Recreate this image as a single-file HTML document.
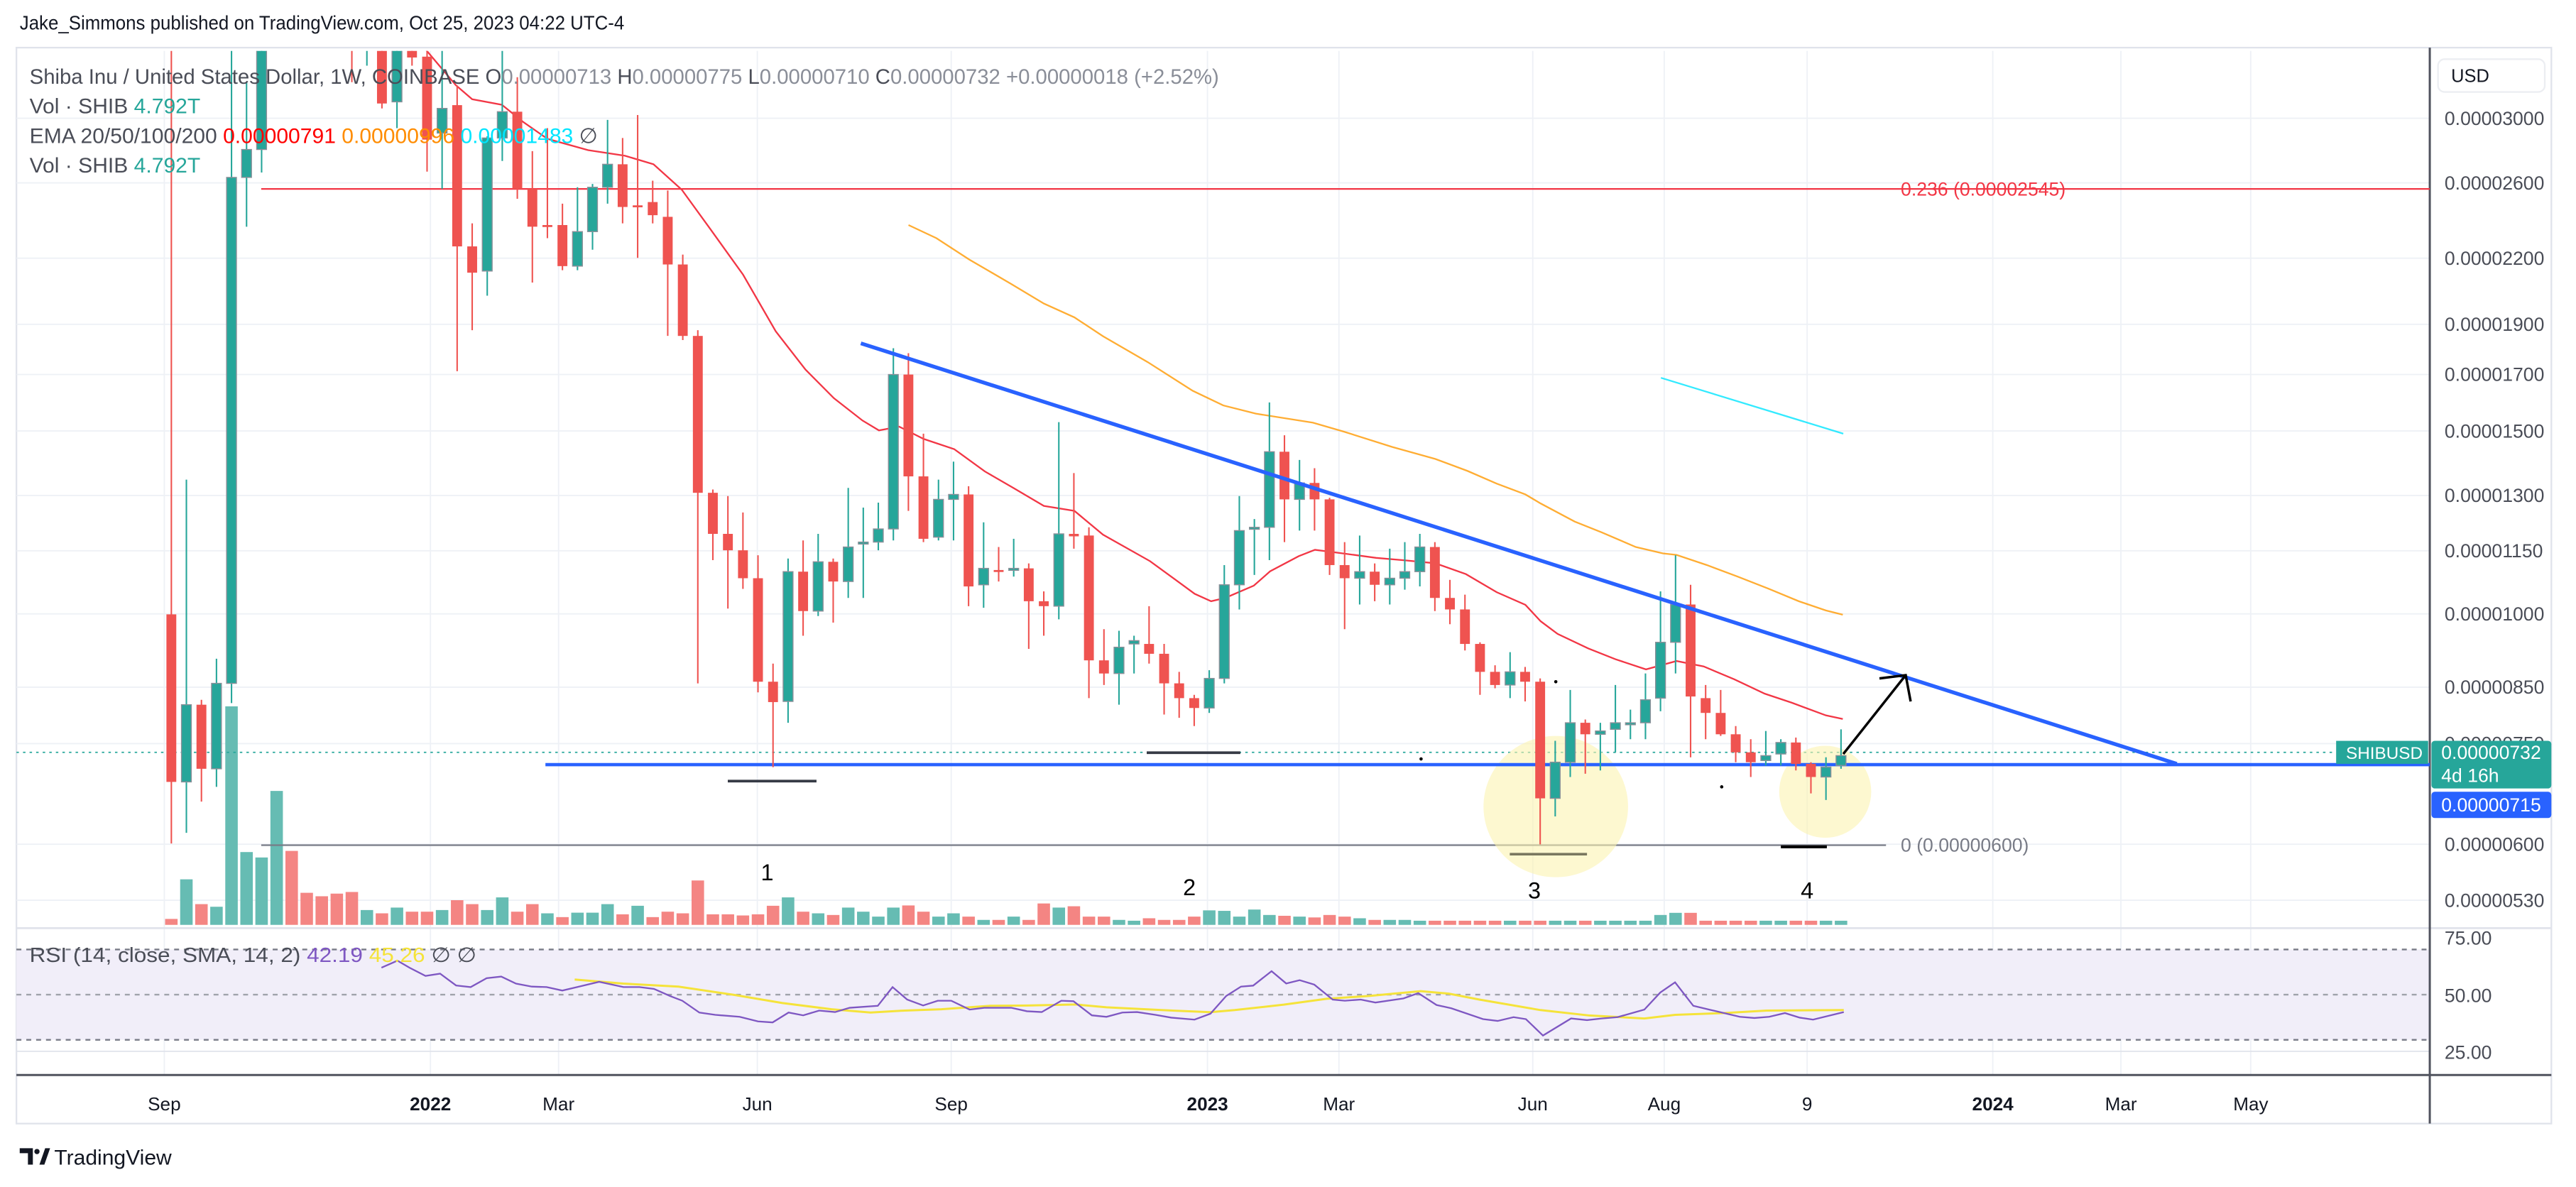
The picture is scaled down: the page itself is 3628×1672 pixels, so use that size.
<!DOCTYPE html>
<html><head><meta charset="utf-8"><style>
html,body{margin:0;padding:0;background:#fff;overflow:hidden}
svg{display:block}
text{font-family:"Liberation Sans",sans-serif}
</style></head><body>
<svg id="s" xmlns="http://www.w3.org/2000/svg" width="3628" height="1672" viewBox="0 0 1568 722.6" preserveAspectRatio="none"></svg>
<script>
var S=document.getElementById('s');var o='';
function yP(p){return 72+274.6*Math.log(3000/p);}
o+='<rect x="0" y="0" width="1568" height="722.6" fill="#fff"/>';
o+='<rect x="10" y="29" width="1543" height="655" fill="none" stroke="#e0e3eb" stroke-width="1"/>';
var tx=[[100,'Sep'],[262,'2022',1],[340,'Mar'],[461,'Jun'],[579,'Sep'],[735,'2023',1],[815,'Mar'],[933,'Jun'],[1013,'Aug'],[1100,'9'],[1213,'2024',1],[1291,'Mar'],[1370,'May']];
tx.forEach(function(t){o+='<line x1="'+t[0]+'" y1="31" x2="'+t[0]+'" y2="654" stroke="#eef1f6" stroke-width="0.8"/>';});
var pl=[3000,2600,2200,1900,1700,1500,1300,1150,1000,850,750,600,530];
pl.forEach(function(p){var y=yP(p);o+='<line x1="10" y1="'+y+'" x2="1479" y2="'+y+'" stroke="#eef1f6" stroke-width="0.8"/>';});
o+='<line x1="10" y1="565" x2="1553" y2="565" stroke="#e0e3eb" stroke-width="1.2"/>';
o+='<rect x="10" y="578" width="1469" height="55" fill="#f1eef9"/>';
[578,605.5,633].forEach(function(y,i){o+='<line x1="10" y1="'+y+'" x2="1479" y2="'+y+'" stroke="'+(i==1?'#a0a3ab':'#787b86')+'" stroke-width="1" stroke-dasharray="3,3"/>';});
o+='<line x1="10" y1="640" x2="1479" y2="640" stroke="#e0e3eb" stroke-width="0.8"/>';
o+='<line x1="1479" y1="29" x2="1479" y2="684" stroke="#50535e" stroke-width="1.3"/>';
o+='<line x1="10" y1="654.4" x2="1553" y2="654.4" stroke="#50535e" stroke-width="1.3"/>';
o+='<defs><clipPath id="pc"><rect x="10" y="31" width="1469" height="532"/></clipPath></defs><g clip-path="url(#pc)">';
var vol=[559.4,535.3,550.4,552,430,518.7,522,481.5,518,543.5,545.6,544,543,554,556,552.5,555,555,554,548,550.4,554,546.3,555,550.4,556,558.3,555.6,555.6,550.4,556.6,551.4,558.3,555,556,536,556.6,556.6,557.3,556.6,551.4,546.3,
555,556,557,552.5,555,558,552.5,551.2,555,558,556,558,560,560,558,560,550,552.5,551.7,558,558,560,560.5,559,560,560,558,554.2,554.5,558,553.7,557,557.5,558,558.5,557,558,559,560,560,560];
var volc={0:'r',1:'g',2:'r',3:'g',4:'g',5:'g',6:'g',7:'g',8:'r',9:'r',10:'r',11:'r',12:'r',13:'g',14:'r',15:'g',16:'r',17:'r',18:'g',19:'r',20:'r',21:'g',22:'g',23:'r',24:'r',25:'g',26:'r',27:'g',28:'g',29:'g',30:'r',31:'g',32:'r',33:'r',34:'r',35:'r',36:'r',37:'r',38:'r',39:'r',40:'r',41:'g'};
var C=[[374,476,20,513.5],[476,429,292,507],[429,468,426,488],[468,416,401,479],[416,108,20,428],[108,91,50,138],[91,29,10,105],
[20,-20,-40,28],[-20,0,-40,20],[0,-30,-50,25],[-30,5,-50,25],[5,-10,-40,25],[-10,10,-30,50],[10,-5,-30,40],
[29,63,10,66],[62,29,10,78],[29,35,10,40],[34.5,85,20,104.5],[81,66,10,115],[64,150,52,226],[150,166,136,201],[165,84,83,180],[84,68,20,98],[68,115,47,121],[115,138,92,172],[137,137.8,78,145],[137,162,124,164.5],[162,141,114,164.5],[141,114,112,152],[114,100,73,124],[100,126,84,136],[125,125.8,70,157],[123,131,110,136],[132,161,116,204.5],[161,204.5,155,207],[204.5,300,201,416],[300,325,298,341],[325,335,302,370.5],[335,352,312,358.5],[352,415,338,421.5],[415,427.4,404,467],
[427,348,340,440],[348,372,329,387],[372,342,325,375],[342,354,340,379],[354,333,297,364],[331,330,309,364],[330,322,306,335],[322,228,212,329],[228,290,215,311],[290,328,264,330],[327,304,292,329],[304,301,281,329],[301,357,296,369],[356,346,318,370],[347,348,333,354],[347,346,328,351],[346,366,343,395],[366,369,360,387],[369,325,257,377],[325,326.5,288,334],[326,402,321,425],[402,410,383,417],[410,394,384,429],[392,390,387,410],[392,398,369,404],[398,416,392,435],[416,425,409,437],[425,431,423,442],[431,413,408,434],[413,356,344,416],[356,323,302,371],[322,321,316,350],[321,275,245,341],[275,304,265,330],[304,294,280,323],[294,304,285,323],[304,344,303,350],[344,352,330,383],[352,348,326,368],[348,356,343,366],[356,352,334,368],[352,348,330,359],
[348,333,325,357],[333,364,330,372],[364,371,353,380],[371,392,362,396],[392,409,391,423],[409,417,405,419],[417,409,397,425],[409,415,406,427],[415,486,413,514],[486,464,451,497],[464,440,420,473],[440,447,438,471],[447,445,440,469],[444,440,417,458],[440.5,440,432,450],[440,426,410,450],[425,391,360,433],[391,368,338,410],[368,424,356,461],[425,434,417,450],[434,447,420,448],[447,458,442,464],[458,464,450,473],[463,460,445,466],[459,452,450,466],[452,465,449,469],[465,473,464,483],[473,467,461,487],[466,460,444,468]];
function X(i){return 104.3+9.156*i;}
for(var i=0;i<C.length;i++){var x=X(i);var v=(i<vol.length?vol[i]:560.5);if(i==99)v=557;if(i==100)v=555.7;if(i==101)v=555.7;
var c=C[i];var g=volc.hasOwnProperty(i)?volc[i]=='g':(c[1]<c[0]);
o+='<rect x="'+(x-3.8)+'" y="'+v+'" width="7.6" height="'+(563.5-v)+'" fill="'+(g?'#66bcb3':'#f48583')+'"/>';}
o+='<line x1="159" y1="115" x2="1479" y2="115" stroke="#f23645" stroke-width="1"/>';
o+='<line x1="159" y1="514.5" x2="1148" y2="514.5" stroke="#787b86" stroke-width="1"/>';
o+='<line x1="10" y1="458" x2="1420" y2="458" stroke="#26a69a" stroke-width="0.8" stroke-dasharray="1.5,2.5"/>';
o+='<ellipse cx="947" cy="491" rx="44" ry="43" fill="#fbf3b0" fill-opacity="0.6"/>';
o+='<ellipse cx="1111" cy="482" rx="28" ry="28" fill="#fbf3b0" fill-opacity="0.6"/>';
o+='<line x1="332" y1="465.5" x2="1479" y2="465.5" stroke="#2962ff" stroke-width="2"/>';
function pts(a){return a.map(function(p){return p[0]+','+p[1]}).join(' ');}
var ema20=[[259,30],[277.4,51.8],[287.4,60.4],[305.5,63.8],[318.4,74.2],[333.2,84.5],[358,91.4],[380.4,94.8],[397.8,100],[415,115.5],[432.5,139.6],[452.3,167.2],[472.2,201.7],[490.3,225],[507.6,242.4],[525,256],[535,262],[547.3,259.7],[562.2,267.2],[580.8,273.4],[599.5,287],[616.8,297],[635.4,308],[654,311],[671.4,325.5],[700,341.6],[727.2,361.5],[737.2,366],[745.8,364],[763.2,356.5],[773.1,347.8],[790.5,338.6],[800.4,334.7],[819,337.1],[837.6,339.6],[855,341.1],[873.7,342.9],[892.3,349.5],[911,360.5],[928.5,368.2],[937.8,378.2],[948.1,385.9],[966.7,394.7],[983.3,401.3],[1001.9,407.5],[1020.5,402.4],[1037,405.7],[1055.6,413.5],[1074.2,422.3],[1090.7,427.8],[1111.4,435.5],[1121.7,437.7]];
o+='<polyline points="'+pts(ema20)+'" fill="none" stroke="#f23645" stroke-width="1"/>';
var ema50=[[553,137],[570,145],[590,158],[615.6,172.9],[635.4,184.8],[654,193.2],[671.4,204.7],[698.7,220.5],[726,237.9],[744.6,246.8],[764.4,251.8],[799.2,257.3],[817.8,262.7],[847.5,272.1],[873.7,279.4],[893.3,286.7],[911,294.4],[928.5,301],[937.8,306.5],[958.5,317.5],[975,324.1],[995.7,333],[1012.2,336.9],[1020.5,337.8],[1039,344],[1057.7,351],[1076.3,358.3],[1094.9,366],[1111.4,371.6],[1121.7,374.2]];
o+='<polyline points="'+pts(ema50)+'" fill="none" stroke="#ff9800" stroke-opacity="0.8" stroke-width="1"/>';
o+='<line x1="1011" y1="230" x2="1122" y2="264" stroke="#00e5ff" stroke-opacity="0.8" stroke-width="1"/>';
for(var i=0;i<C.length;i++){var x=X(i);var c=C[i];var g=c[1]<=c[0];var col=g?'#26a69a':'#ef5350';
var t=Math.min(c[0],c[1]),b=Math.max(c[0],c[1]);if(b-t<1.2){b=t+1.2;}
o+='<line x1="'+x+'" y1="'+c[2]+'" x2="'+x+'" y2="'+c[3]+'" stroke="'+col+'" stroke-width="0.9"/>';
o+='<rect x="'+(x-3)+'" y="'+t+'" width="6" height="'+(b-t)+'" fill="'+col+'"'+(g?' stroke="#8a8f98" stroke-width="0.6"':'')+'/>';}
o+='<line x1="524" y1="209" x2="1325" y2="465" stroke="#2962ff" stroke-width="2.3"/>';
o+='<line x1="443" y1="475.5" x2="497" y2="475.5" stroke="#363a45" stroke-width="1.6"/>';
o+='<line x1="698" y1="458.2" x2="755" y2="458.2" stroke="#363a45" stroke-width="1.6"/>';
o+='<line x1="919" y1="520" x2="966" y2="520" stroke="#7a7860" stroke-width="1.6"/>';
o+='<line x1="1084" y1="515.5" x2="1112" y2="515.5" stroke="#000" stroke-width="1.8"/>';
o+='<circle cx="947" cy="415" r="1" fill="#000"/><circle cx="865" cy="462" r="1" fill="#000"/><circle cx="1048" cy="479" r="1" fill="#000"/>';
o+='<polyline points="1122,459 1160,411" fill="none" stroke="#000" stroke-width="1.5"/><polyline points="1144,413 1160,411 1163,427" fill="none" stroke="#000" stroke-width="1.5"/>';
o+='</g>';
o+='<text x="1157" y="119" font-size="11.5" fill="#f23645">0.236 (0.00002545)</text>';
o+='<text x="1157" y="518.5" font-size="11.5" fill="#787b86">0 (0.00000600)</text>';
[[467,'1',536],[724,'2',545],[934,'3',547],[1100,'4',547]].forEach(function(n){o+='<text x="'+n[0]+'" y="'+n[2]+'" font-size="14" text-anchor="middle" fill="#000">'+n[1]+'</text>';});
o+='<text x="18" y="51" font-size="13" fill="#4a4d57" textLength="724" lengthAdjust="spacingAndGlyphs">Shiba Inu / United States Dollar, 1W, COINBASE  O<tspan fill="#8a8e98">0.00000713</tspan>  H<tspan fill="#8a8e98">0.00000775</tspan>  L<tspan fill="#8a8e98">0.00000710</tspan>  C<tspan fill="#8a8e98">0.00000732  +0.00000018 (+2.52%)</tspan></text>';
o+='<text x="18" y="69" font-size="13" fill="#4a4d57">Vol · SHIB <tspan fill="#26a69a">4.792T</tspan></text>';
o+='<text x="18" y="87" font-size="13" fill="#4a4d57">EMA 20/50/100/200 <tspan fill="#ff0000">0.00000791</tspan> <tspan fill="#ff8c00">0.00000996</tspan> <tspan fill="#00e5ff">0.00001483</tspan> <tspan fill="#4a4d57">∅</tspan></text>';
o+='<text x="18" y="105" font-size="13" fill="#4a4d57">Vol · SHIB <tspan fill="#26a69a">4.792T</tspan></text>';
o+='<text x="12" y="18" font-size="12" fill="#131722" textLength="368" lengthAdjust="spacingAndGlyphs">Jake_Simmons published on TradingView.com, Oct 25, 2023 04:22 UTC-4</text>';
var rz=[[312,190],[325,160],[335,190],[348,225],[360,215],[373,265],[385,272],[398,235],[410,228],[422,258],[435,270],[447,272],[460,287],[472,272],[490,250],[510,272],[523,272],[535,280],[548,310],[558,330],[572,380],[585,390],[605,398],[620,418],[632,422],[645,380],[657,392],[670,372],[683,378],[695,360],[718,352],[730,272],[742,325],[755,350],[767,330],[778,330],[793,368],[805,360],[827,360],[840,375],[852,378],[868,330],[878,332],[893,392],[905,398],[918,380],[930,378],[945,390],[958,402],[977,410],[990,385],[1003,310],[1015,270],[1025,266],[1040,205],[1052,257],[1063,243],[1075,262],[1090,325],[1100,330],[1113,325],[1125,338],[1148,320],[1160,298],[1175,348],[1187,362],[1213,408],[1225,416],[1238,400],[1248,408],[1262,478],[1285,405],[1298,412],[1310,405],[1323,400],[1345,368],[1358,295],[1370,252],[1385,352],[1398,368],[1423,398],[1435,403],[1447,398],[1460,382],[1472,402],[1483,410],[1508,378]];
var yz=[[470,240],[510,258],[555,270],[600,305],[640,340],[680,366],[712,380],[740,372],[770,366],[810,352],[840,350],[880,346],[905,358],[950,370],[990,379],[1010,370],[1050,347],[1085,322],[1120,310],[1140,300],[1162,290],[1185,300],[1210,325],[1260,370],[1300,393],[1345,405],[1370,390],[1410,382],[1445,372],[1508,370]];
function rm(a){return a.map(function(p){return (p[0]*0.7442).toFixed(1)+','+(561.8+p[1]*0.1436).toFixed(1)}).join(' ');}
o+='<polyline points="'+rm(yz)+'" fill="none" stroke="#f5e33a" stroke-width="1.3"/>';
o+='<polyline points="'+rm(rz)+'" fill="none" stroke="#7e57c2" stroke-width="1"/>';
o+='<text x="18" y="585.5" font-size="12.5" fill="#4a4d57" textLength="272" lengthAdjust="spacingAndGlyphs">RSI (14, close, SMA, 14, 2) <tspan fill="#7e57c2">42.19</tspan> <tspan fill="#f5e33a">45.26</tspan> ∅ ∅</text>';
o+='<rect x="1484" y="36" width="65" height="20" rx="4" fill="#fff" stroke="#eceef2"/>';
o+='<text x="1492" y="50" font-size="11" fill="#131722">USD</text>';
pl.forEach(function(p){var y=yP(p);var s='0.0000'+(p<1000?'0':'')+p+'';o+='<text x="1488" y="'+(y+4)+'" font-size="11.5" fill="#4a4d57">'+s+'</text>';});
o+='<text x="1488" y="575" font-size="11.5" fill="#4a4d57">75.00</text><text x="1488" y="610" font-size="11.5" fill="#4a4d57">50.00</text><text x="1488" y="644.5" font-size="11.5" fill="#4a4d57">25.00</text>';
o+='<rect x="1422" y="451" width="56" height="14" fill="#26a69a"/><text x="1428" y="462" font-size="10.5" fill="#fff">SHIBUSD</text>';
o+='<rect x="1480" y="451" width="73" height="29" rx="2" fill="#26a69a"/><text x="1486" y="462" font-size="11.5" fill="#fff">0.00000732</text><text x="1486" y="476" font-size="11.5" fill="#fff">4d 16h</text>';
o+='<rect x="1480" y="482" width="73" height="16" rx="2" fill="#2962ff"/><text x="1486" y="494" font-size="11.5" fill="#fff">0.00000715</text>';
tx.forEach(function(t){o+='<text x="'+t[0]+'" y="676" font-size="11.3" text-anchor="middle" fill="#131722"'+(t[2]?' font-weight="bold"':'')+'>'+t[1]+'</text>';});
o+='<path d="M12 699h8v10h-3v-7h-5z" fill="#131722"/><circle cx="22.5" cy="701" r="1.6" fill="#131722"/><path d="M24 709l3.5-10h3l-3.5 10z" fill="#131722"/>';
o+='<text x="33" y="709" font-size="13" fill="#131722">TradingView</text>';
S.innerHTML=o;
</script>
</body></html>
